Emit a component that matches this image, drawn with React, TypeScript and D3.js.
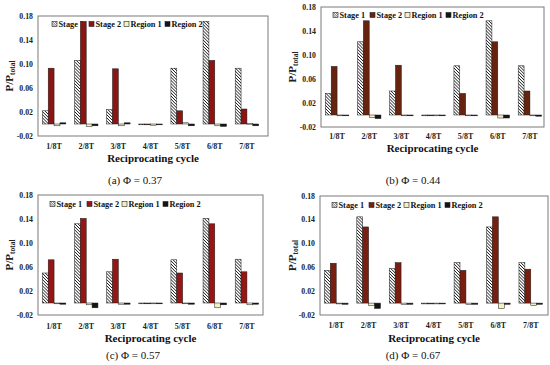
import React from 'react';
import * as d3 from 'd3';

const categories = ['1/8T', '2/8T', '3/8T', '4/8T', '5/8T', '6/8T', '7/8T'];
const seriesNames = ['Stage 1', 'Stage 2', 'Region 1', 'Region 2'];
const yTickValues = [-0.02, 0.02, 0.06, 0.1, 0.14, 0.18];
const yTickLabels = ['-0.02', '0.02', '0.06', '0.10', '0.14', '0.18'];
const xTitle = 'Reciprocating cycle';

// (a) Φ = 0.37
const aStage1 = [0.022, 0.106, 0.024, -0.001, 0.093, 0.171, 0.093];
const aStage2 = [0.093, 0.171, 0.092, -0.001, 0.022, 0.106, 0.025];
const aRegion1 = [-0.003, -0.004, -0.003, -0.002, 0.002, -0.003, 0.001];
const aRegion2 = [0.002, -0.003, 0.002, -0.001, -0.003, -0.004, -0.003];

// (b) Φ = 0.44
const bStage1 = [0.036, 0.122, 0.04, -0.001, 0.082, 0.157, 0.082];
const bStage2 = [0.081, 0.157, 0.083, -0.001, 0.036, 0.122, 0.04];
const bRegion1 = [-0.001, -0.004, -0.001, -0.001, -0.001, -0.005, -0.001];
const bRegion2 = [-0.001, -0.006, -0.001, -0.001, -0.001, -0.005, -0.002];

// (c) Φ = 0.57
const cStage1 = [0.05, 0.132, 0.052, -0.001, 0.072, 0.141, 0.073];
const cStage2 = [0.072, 0.141, 0.073, -0.001, 0.05, 0.132, 0.052];
const cRegion1 = [-0.001, -0.003, -0.002, -0.001, -0.001, -0.008, -0.003];
const cRegion2 = [-0.002, -0.008, -0.002, -0.001, -0.002, -0.003, -0.002];

// (d) Φ = 0.67
const dStage1 = [0.055, 0.145, 0.058, -0.001, 0.068, 0.128, 0.068];
const dStage2 = [0.067, 0.128, 0.068, -0.001, 0.055, 0.145, 0.057];
const dRegion1 = [-0.001, -0.004, -0.002, -0.001, -0.002, -0.009, -0.004];
const dRegion2 = [-0.002, -0.009, -0.002, -0.001, -0.002, -0.002, -0.002];

const captions = ['(a) Φ = 0.37', '(b) Φ = 0.44', '(c) Φ = 0.57', '(d) Φ = 0.67'];
const panelSeries = [
  [aStage1, aStage2, aRegion1, aRegion2],
  [bStage1, bStage2, bRegion1, bRegion2],
  [cStage1, cStage2, cRegion1, cRegion2],
  [dStage1, dStage2, dRegion1, dRegion2],
];

// layout (positions only)
const layouts = [
  { fx: 38, fy: 16, fw: 230, fh: 120, xr: [38, 263], lx: 52, ly: 24, ytx: 9, capX: 135, capY: 184, xlY: 149, xtY: 162, s2: '#8a1512' },
  { fx: 321, fy: 7, fw: 223, fh: 120, xr: [321, 546], lx: 333, ly: 15, ytx: 292, capX: 413, capY: 184, xlY: 139, xtY: 152, s2: '#66240f' },
  { fx: 38, fy: 195, fw: 225, fh: 120, xr: [38, 263], lx: 50, ly: 204, ytx: 9, capX: 133, capY: 359, xlY: 328.5, xtY: 342, s2: '#961515' },
  { fx: 320, fy: 196, fw: 228, fh: 119, xr: [320, 547], lx: 332, ly: 205, ytx: 292, capX: 413, capY: 359, xlY: 328, xtY: 342, s2: '#7a1e10' },
];
const legendOffsets = [0, 37, 72, 113];
const FONT = '"Liberation Serif", "Times New Roman", serif';

function Panel({ idx }: { idx: number }) {
  const L = layouts[idx];
  const data = panelSeries[idx];
  const y = d3.scaleLinear().domain([-0.02, 0.18]).range([L.fy + L.fh, L.fy]);
  const x0 = d3.scaleBand<string>().domain(categories).range(L.xr as [number, number]).paddingInner(0.27).paddingOuter(0.135);
  const x1 = d3.scaleBand<string>().domain(seriesNames).range([0, x0.bandwidth()]);
  const fills = ['url(#hatch)', L.s2, '#f4f0c4', '#141414'];
  const y0 = y(0);
  return (
    <g>
      <rect x={L.fx} y={L.fy} width={L.fw} height={L.fh} fill="#fff" stroke="#7a7a7a" strokeWidth={1} />
      {yTickValues.map((t, i) => (
        <text key={i} x={L.fx - 5} y={y(t)} dy="0.33em" textAnchor="end" fontSize={7.8} fontWeight="bold" fontFamily={FONT} fill="#222">
          {yTickLabels[i]}
        </text>
      ))}
      <text transform={`translate(${L.ytx},${(L.fy + L.fh / 2)}) rotate(-90)`} textAnchor="middle" dy="0.33em" fontFamily={FONT} fontWeight="bold" fontSize={11} fill="#222">
        P/P<tspan fontSize={7.5} dy="2">total</tspan>
      </text>
      {/* legend */}
      {seriesNames.map((s, i) => (
        <g key={s} transform={`translate(${L.lx + legendOffsets[i]},${L.ly})`}>
          <rect x={0} y={-2.5} width={5} height={5} fill={i === 0 ? 'url(#hatchL)' : fills[i]} stroke="#222" strokeWidth={0.6} />
          <text x={6.5} y={0} dy="0.33em" fontFamily={FONT} fontWeight="bold" fontSize={8.3} fill="#111">{s}</text>
        </g>
      ))}
      {categories.map((c, ci) => (
        <g key={c} transform={`translate(${x0(c)},0)`}>
          {seriesNames.map((s, si) => {
            const v = data[si][ci];
            const yv = y(v);
            const top = Math.min(yv, y0);
            let h = Math.abs(yv - y0);
            if (h < 0.8) { h = 0.8; }
            return (
              <rect key={s} x={x1(s)} y={top} width={x1.bandwidth()} height={h} fill={fills[si]} stroke="#1a1a1a" strokeWidth={0.5} />
            );
          })}
        </g>
      ))}
      {categories.map((c) => (
        <text key={c} x={(x0(c) as number) + x0.bandwidth() / 2} y={L.xlY} textAnchor="middle" fontFamily={FONT} fontWeight="bold" fontSize={8} fill="#222">{c}</text>
      ))}
      <text x={L.fx + L.fw / 2} y={L.xtY} textAnchor="middle" fontFamily={FONT} fontWeight="bold" fontSize={11} fill="#111">{xTitle}</text>
      <text x={L.capX} y={L.capY} textAnchor="middle" fontFamily={FONT} fontSize={11} fill="#111">{captions[idx]}</text>
    </g>
  );
}

export default function App() {
  return (
    <svg width={550} height={365} viewBox="0 0 550 365" style={{ position: 'absolute', left: 0, top: 0, background: '#fff' }}>
      <defs>
        <pattern id="hatch" patternUnits="userSpaceOnUse" width={2.2} height={2.2} patternTransform="rotate(-45)">
          <rect width={2.2} height={2.2} fill="#fff" />
          <line x1={0} y1={0} x2={0} y2={2.2} stroke="#111" strokeWidth={1.4} />
        </pattern>
        <pattern id="hatchL" patternUnits="userSpaceOnUse" width={1.6} height={1.6} patternTransform="rotate(-45)">
          <rect width={1.6} height={1.6} fill="#fff" />
          <line x1={0} y1={0} x2={0} y2={1.6} stroke="#111" strokeWidth={0.9} />
        </pattern>
      </defs>
      <rect width={550} height={365} fill="#fff" />
      {[0, 1, 2, 3].map((i) => <Panel key={i} idx={i} />)}
    </svg>
  );
}
